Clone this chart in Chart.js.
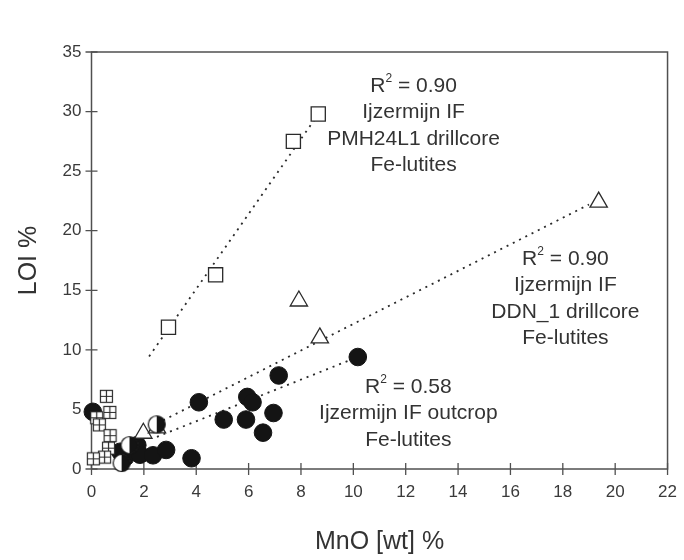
<!DOCTYPE html>
<html>
<head>
<meta charset="utf-8">
<script src="https://cdn.jsdelivr.net/npm/chart.js@4.4.1/dist/chart.umd.min.js"></script>
<style>
  html, body { margin: 0; padding: 0; background: #ffffff; }
  canvas { display: block; }
</style>
</head>
<body>
<canvas id="chart" width="684" height="560"></canvas>
<script>
// Axis ticks
const xTicks = [0, 2, 4, 6, 8, 10, 12, 14, 16, 18, 20, 22];
const yTicks = [0, 5, 10, 15, 20, 25, 30, 35];

// Ijzermijn IF, PMH24L1 drillcore Fe-lutites (open squares)
const pmhMnO = [2.94, 4.74, 7.71, 8.66];
const pmhLOI = [11.9, 16.3, 27.5, 29.8];

// Ijzermijn IF, DDN_1 drillcore Fe-lutites (open triangles)
const ddnMnO = [1.98, 2.50, 8.72, 7.92, 19.37];
const ddnLOI = [3.00, 3.45, 11.0, 14.1, 22.4];

// Ijzermijn IF outcrop Fe-lutites (filled circles)
const outMnO = [0.05, 1.10, 1.30, 1.75, 1.85, 2.35, 2.85, 3.82, 4.10, 5.05, 5.90, 5.95, 6.15, 6.55, 6.95, 7.15, 10.17];
const outLOI = [4.80, 1.45, 1.00, 2.00, 1.20, 1.15, 1.60, 0.90, 5.60, 4.15, 4.15, 6.05, 5.60, 3.05, 4.70, 7.85, 9.40];

// Half-filled circles
const halfMnO = [1.15, 1.45, 2.49];
const halfLOI = [0.50, 2.00, 3.75];

// Crossed squares
const crossMnO = [0.57, 0.70, 0.20, 0.30, 0.71, 0.65, 0.50, 0.07];
const crossLOI = [6.10, 4.75, 4.30, 3.70, 2.80, 1.75, 1.00, 0.85];

// Linear fits (end points)
const pmhFitMnO = [2.20, 8.70];
const pmhFitLOI = [9.45, 29.9];
const ddnFitMnO = [2.50, 19.0];
const ddnFitLOI = [3.82, 22.2];
const outFitMnO = [2.50, 10.0];
const outFitLOI = [2.70, 9.25];

// Fit labels
const r2Values = ['0.90', '0.90', '0.58'];
const fitNotes = [
  ['Ijzermijn IF', 'PMH24L1 drillcore', 'Fe-lutites'],
  ['Ijzermijn IF', 'DDN_1 drillcore', 'Fe-lutites'],
  ['Ijzermijn IF outcrop', 'Fe-lutites']
];

const FONT = '"Liberation Sans", Arial, Helvetica, sans-serif';
const INK = '#333333';

function pts(xs, ys) { return xs.map((x, i) => ({ x: x, y: ys[i] })); }

function crossedSquare(side) {
  const c = document.createElement('canvas');
  const s = side + 2;
  c.width = s; c.height = s;
  const g = c.getContext('2d');
  g.fillStyle = '#ffffff';
  g.fillRect(1, 1, side, side);
  g.strokeStyle = '#2a2a2a';
  g.lineWidth = 1.2;
  g.strokeRect(1.5, 1.5, side - 1, side - 1);
  g.beginPath();
  g.moveTo(s / 2, 1.5); g.lineTo(s / 2, s - 1.5);
  g.moveTo(1.5, s / 2); g.lineTo(s - 1.5, s / 2);
  g.stroke();
  return c;
}

function halfCircle(r) {
  const c = document.createElement('canvas');
  const s = Math.ceil(2 * r + 3);
  c.width = s; c.height = s;
  const g = c.getContext('2d');
  const m = s / 2;
  g.beginPath(); g.arc(m, m, r, 0, Math.PI * 2);
  g.fillStyle = '#ffffff'; g.fill();
  g.beginPath(); g.moveTo(m, m - r); g.arc(m, m, r, -Math.PI / 2, Math.PI / 2); g.closePath();
  g.fillStyle = '#141414'; g.fill();
  g.beginPath(); g.arc(m, m, r, 0, Math.PI * 2);
  g.strokeStyle = '#141414'; g.lineWidth = 1.2; g.stroke();
  return c;
}

function fitLine(xs, ys) {
  return {
    type: 'line',
    data: pts(xs, ys),
    borderColor: '#2a2a2a',
    borderWidth: 1.8,
    borderDash: [2, 5],
    pointRadius: 0,
    showLine: true,
    fill: false,
    clip: false
  };
}

// Frame and crossing tick marks, drawn beneath the markers
const framePlugin = {
  id: 'frame',
  beforeDatasetsDraw(chart) {
    const { ctx, chartArea: a, scales } = chart;
    ctx.save();
    ctx.strokeStyle = '#505050';
    ctx.lineWidth = 1.5;
    ctx.strokeRect(a.left, a.top, a.right - a.left, a.bottom - a.top);
    ctx.lineWidth = 1.3;
    ctx.beginPath();
    xTicks.forEach(v => {
      const px = scales.x.getPixelForValue(v);
      ctx.moveTo(px, a.bottom - 6); ctx.lineTo(px, a.bottom + 6);
    });
    yTicks.forEach(v => {
      const py = scales.y.getPixelForValue(v);
      ctx.moveTo(a.left - 6, py); ctx.lineTo(a.left + 6, py);
    });
    ctx.stroke();
    ctx.restore();
  }
};

// Axis titles and fit labels
const textPlugin = {
  id: 'texts',
  afterDraw(chart) {
    const { ctx, chartArea: a, scales } = chart;
    ctx.save();
    ctx.fillStyle = INK;
    ctx.textBaseline = 'middle';

    // axis titles
    ctx.font = '25px ' + FONT;
    ctx.textAlign = 'center';
    ctx.fillText('MnO [wt] %', (a.left + a.right) / 2, 542);
    ctx.save();
    ctx.translate(29, (a.top + a.bottom) / 2);
    ctx.rotate(-Math.PI / 2);
    ctx.fillText('LOI %', 0, 0);
    ctx.restore();

    // fit labels, anchored in data units
    const anchors = [
      { x: 12.3, y: 32.15 },
      { x: 18.1, y: 17.65 },
      { x: 12.1, y: 6.88 }
    ];
    const fs = 21, lh = 26.5;
    anchors.forEach((an, k) => {
      const cx = scales.x.getPixelForValue(an.x);
      const cy = scales.y.getPixelForValue(an.y);
      // R² line
      ctx.font = fs + 'px ' + FONT;
      const wR = ctx.measureText('R').width;
      const rest = ' = ' + r2Values[k];
      const wRest = ctx.measureText(rest).width;
      ctx.font = Math.round(fs * 0.55) + 'px ' + FONT;
      const w2 = ctx.measureText('2').width;
      const x0 = cx - (wR + w2 + wRest) / 2;
      ctx.textAlign = 'left';
      ctx.font = fs + 'px ' + FONT;
      ctx.fillText('R', x0, cy);
      ctx.font = Math.round(fs * 0.55) + 'px ' + FONT;
      ctx.fillText('2', x0 + wR, cy - fs * 0.33);
      ctx.font = fs + 'px ' + FONT;
      ctx.fillText(rest, x0 + wR + w2, cy);
      ctx.textAlign = 'center';
      fitNotes[k].forEach((t, i) => {
        ctx.fillText(t, cx, cy + lh * (i + 1));
      });
    });
    ctx.restore();
  }
};

new Chart(document.getElementById('chart'), {
  type: 'scatter',
  data: {
    datasets: [
      {
        label: 'crossed squares',
        data: pts(crossMnO, crossLOI),
        pointStyle: crossedSquare(13),
        pointRadius: 7,
        clip: false
      },
      {
        label: 'half circles',
        data: pts(halfMnO, halfLOI),
        pointStyle: halfCircle(8.5),
        pointRadius: 8.5,
        clip: false
      },
      {
        label: 'DDN_1 drillcore',
        data: pts(ddnMnO, ddnLOI),
        pointStyle: 'triangle',
        pointRadius: 10,
        backgroundColor: '#ffffff',
        borderColor: '#2a2a2a',
        borderWidth: 1.3,
        clip: false
      },
      {
        label: 'PMH24L1 drillcore',
        data: pts(pmhMnO, pmhLOI),
        pointStyle: 'rect',
        pointRadius: 10,
        backgroundColor: '#ffffff',
        borderColor: '#2a2a2a',
        borderWidth: 1.3,
        clip: false
      },
      {
        label: 'outcrop',
        data: pts(outMnO, outLOI),
        pointStyle: 'circle',
        pointRadius: 8.8,
        backgroundColor: '#141414',
        borderColor: '#141414',
        borderWidth: 1,
        clip: false
      },
      fitLine(pmhFitMnO, pmhFitLOI),
      fitLine(ddnFitMnO, ddnFitLOI),
      fitLine(outFitMnO, outFitLOI)
    ]
  },
  options: {
    responsive: false,
    animation: false,
    events: [],
    layout: { padding: { top: 52, right: 11.5, left: 0, bottom: 0 } },
    plugins: { legend: { display: false }, tooltip: { enabled: false } },
    scales: {
      x: {
        type: 'linear',
        min: 0, max: 22,
        afterFit(s) { s.height = 91; },
        afterBuildTicks(s) { s.ticks = xTicks.map(v => ({ value: v })); },
        grid: { display: false, drawTicks: true, tickLength: 6 },
        border: { display: false },
        ticks: { color: '#3a3a3a', font: { family: FONT, size: 17 }, padding: 7, maxRotation: 0, autoSkip: false }
      },
      y: {
        type: 'linear',
        min: 0, max: 35,
        afterFit(s) { s.width = 91.5; },
        afterBuildTicks(s) { s.ticks = yTicks.map(v => ({ value: v })); },
        grid: { display: false, drawTicks: true, tickLength: 6 },
        border: { display: false },
        ticks: { color: '#3a3a3a', font: { family: FONT, size: 17 }, padding: 4, autoSkip: false }
      }
    }
  },
  plugins: [framePlugin, textPlugin]
});
</script>
</body>
</html>
